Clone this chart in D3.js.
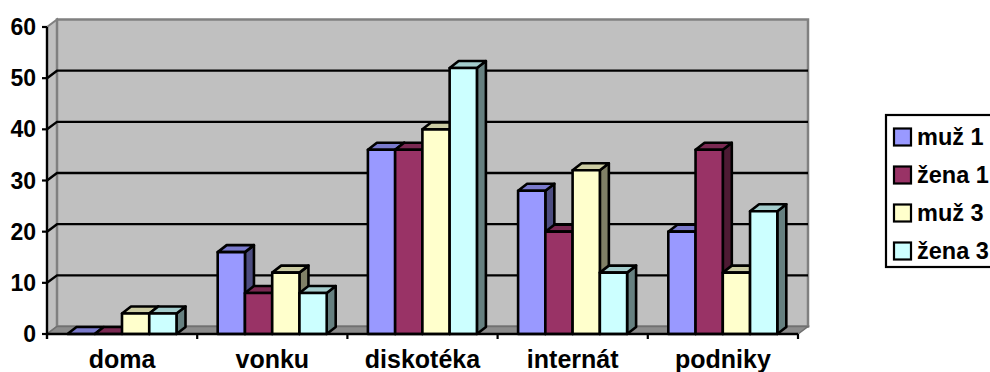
<!DOCTYPE html>
<html>
<head>
<meta charset="utf-8">
<script src="https://cdn.jsdelivr.net/npm/d3@7"></script>
<style>
  html, body { margin: 0; padding: 0; background: #fff; }
  svg text { font-family: Arial, "Liberation Sans", sans-serif; font-weight: bold; fill: #000; }
</style>
</head>
<body>
<svg id="chart" width="990" height="372"></svg>
<script>
// Categories, series and values
const categories = ["doma", "vonku", "diskotéka", "internát", "podniky"];
const seriesNames = ["muž 1", "žena 1", "muž 3", "žena 3"];
const muz1  = [0, 16, 36, 28, 20];
const zena1 = [0, 8, 36, 20, 36];
const muz3  = [4, 12, 40, 32, 12];
const zena3 = [4, 8, 52, 12, 24];
const yTicks = [0, 10, 20, 30, 40, 50, 60];

const seriesValues = [muz1, zena1, muz3, zena3];
// front / top / side shades per series
const fills = [
  { front: "#9999FF", top: "#7A7ACC", side: "#4D4D80" },
  { front: "#993366", top: "#7A2952", side: "#4D1A33" },
  { front: "#FFFFCC", top: "#CCCCA3", side: "#808066" },
  { front: "#CCFFFF", top: "#A3CCCC", side: "#668080" }
];

const svg = d3.select("#chart");

const plotLeft = 47, plotRight = 798, plotBottom = 334, plotTop = 27;
const wallDx = 10, wallDy = -7.5;   // depth of the walls
const barDx = 9, barDy = -7;        // depth of the columns

const y = d3.scaleLinear().domain([0, 60]).range([plotBottom, plotTop]);
const x0 = d3.scaleBand().domain(categories).range([plotLeft, plotRight]).padding(0);
const x1 = d3.scaleBand().domain(seriesNames).range([20.5, 129.5]).padding(0);

const poly = pts => "M" + pts.map(p => p.join(",")).join("L") + "Z";

// side wall (left)
svg.append("path")
  .attr("d", poly([[plotLeft, plotBottom], [plotLeft + wallDx, plotBottom + wallDy], [plotLeft + wallDx, plotTop + wallDy], [plotLeft, plotTop]]))
  .attr("fill", "#C0C0C0").attr("stroke", "#808080").attr("stroke-width", 2);

// back wall
svg.append("path")
  .attr("d", poly([[plotLeft + wallDx, plotTop + wallDy], [plotRight + wallDx, plotTop + wallDy], [plotRight + wallDx, plotBottom + wallDy], [plotLeft + wallDx, plotBottom + wallDy]]))
  .attr("fill", "#C0C0C0").attr("stroke", "#808080").attr("stroke-width", 2.5);

// floor
svg.append("path")
  .attr("d", poly([[plotLeft, plotBottom], [plotLeft + wallDx, plotBottom + wallDy], [plotRight + wallDx, plotBottom + wallDy], [plotRight, plotBottom]]))
  .attr("fill", "#8C8C8C").attr("stroke", "#707070").attr("stroke-width", 1.5);

// gridlines: along the side wall and across the back wall
const grid = svg.append("g").attr("stroke", "#000").attr("stroke-width", 2.4).attr("fill", "none");
yTicks.filter(v => v > 0 && v < 60).forEach(v => {
  grid.append("path")
    .attr("d", `M${plotLeft},${y(v)}L${plotLeft + wallDx},${y(v) + wallDy}L${plotRight + wallDx},${y(v) + wallDy}`);
});

// columns
const bars = svg.append("g").attr("stroke", "#000").attr("stroke-width", 2.6).attr("stroke-linejoin", "round");
categories.forEach((cat, ci) => {
  seriesNames.forEach((s, si) => {
    const v = seriesValues[si][ci];
    const xa = x0(cat) + x1(s), xb = xa + x1.bandwidth();
    const yt = y(v), yb = y(0);
    const f = fills[si];
    if (v > 0) {
      bars.append("path")
        .attr("d", poly([[xb, yb], [xb + barDx, yb + barDy], [xb + barDx, yt + barDy], [xb, yt]]))
        .attr("fill", f.side);
    }
    bars.append("path")
      .attr("d", poly([[xa, yt], [xa + barDx, yt + barDy], [xb + barDx, yt + barDy], [xb, yt]]))
      .attr("fill", f.top);
    if (v > 0) {
      bars.append("rect")
        .attr("x", xa).attr("y", yt).attr("width", xb - xa).attr("height", yb - yt)
        .attr("fill", f.front);
    }
  });
});

// y axis
const yAxis = svg.append("g");
yAxis.append("line").attr("x1", plotLeft).attr("x2", plotLeft).attr("y1", plotTop).attr("y2", plotBottom + 5)
  .attr("stroke", "#000").attr("stroke-width", 2.4);
yTicks.forEach(v => {
  yAxis.append("line").attr("x1", plotLeft - 5).attr("x2", plotLeft).attr("y1", y(v)).attr("y2", y(v))
    .attr("stroke", "#000").attr("stroke-width", 2.2);
  yAxis.append("text").attr("x", 36).attr("y", y(v) + 8)
    .attr("text-anchor", "end").attr("font-size", 23).text(v);
});

// x axis
const xAxis = svg.append("g");
xAxis.append("line").attr("x1", plotLeft).attr("x2", plotRight).attr("y1", plotBottom).attr("y2", plotBottom)
  .attr("stroke", "#000").attr("stroke-width", 2.4);
categories.forEach(cat => {
  const xe = x0(cat) + x0.bandwidth();
  xAxis.append("line").attr("x1", xe).attr("x2", xe).attr("y1", plotBottom).attr("y2", plotBottom + 5)
    .attr("stroke", "#000").attr("stroke-width", 2.2);
  xAxis.append("text").attr("x", x0(cat) + x0.bandwidth() / 2).attr("y", 368)
    .attr("text-anchor", "middle").attr("font-size", 25).text(cat);
});

// legend
const legend = svg.append("g");
legend.append("rect").attr("x", 886).attr("y", 115).attr("width", 120).attr("height", 152)
  .attr("fill", "#fff").attr("stroke", "#000").attr("stroke-width", 2.2);
seriesNames.forEach((s, i) => {
  const cy = 137 + i * 38;
  legend.append("rect").attr("x", 894).attr("y", cy - 8.5).attr("width", 17).attr("height", 17)
    .attr("fill", fills[i].front).attr("stroke", "#000").attr("stroke-width", 2.2);
  legend.append("text").attr("x", 917).attr("y", cy + 8).attr("font-size", 23.5).text(s);
});
</script>
</body>
</html>
